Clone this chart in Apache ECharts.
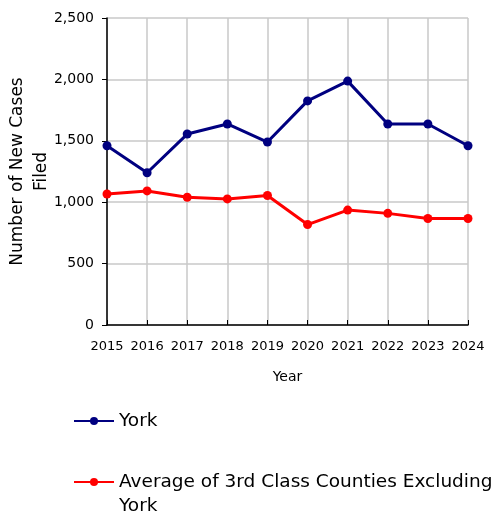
<!DOCTYPE html>
<html><head><meta charset="utf-8">
<script src="https://cdn.jsdelivr.net/npm/echarts@6/dist/echarts.min.js"></script>
<style>html,body{margin:0;padding:0;background:#fff}#c{width:495px;height:514px}</style>
</head><body><div id="c"></div>
<script>
const years = ['2015','2016','2017','2018','2019','2020','2021','2022','2023','2024'];
const york = [1460, 1240, 1555, 1637, 1490, 1825, 1986, 1637, 1637, 1460];
const avg3rd = [1067, 1092, 1040, 1027, 1055, 818, 936, 909, 867, 867];
const seriesNames = ['York', 'Average of 3rd Class Counties Excluding York'];
const legendLines = ['Average of 3rd Class Counties Excluding', 'York'];
const yTicks = {min: 0, max: 2500, interval: 500};

const chart = echarts.init(document.getElementById('c'), null, {renderer: 'canvas'});
const font = 'DejaVu Sans, Liberation Sans, sans-serif';
const legendBase = {
  orient: 'vertical', left: 68, itemWidth: 40, itemHeight: 10,
  textStyle: {fontSize: 18.5, color: '#000', fontFamily: font, lineHeight: 24}
};
chart.setOption({
  animation: false,
  textStyle: {fontFamily: font},
  grid: {left: 107, right: 27, top: 18, bottom: 189, outerBoundsMode: 'none', containLabel: false},
  xAxis: {
    type: 'category', data: years, boundaryGap: false,
    name: 'Year', nameLocation: 'middle', nameGap: 45,
    nameTextStyle: {fontSize: 14, color: '#000', fontFamily: font},
    axisLine: {lineStyle: {color: '#000', width: 1.5}},
    axisTick: {show: true, inside: true, length: 5, interval: 0, lineStyle: {color: '#000'}},
    axisLabel: {color: '#000', fontSize: 13, margin: 15, interval: 0, hideOverlap: false, fontFamily: font},
    splitLine: {show: true, interval: 0, lineStyle: {color: '#c8c8c8', width: 1.5}}
  },
  yAxis: {
    type: 'value', min: yTicks.min, max: yTicks.max, interval: yTicks.interval,
    name: 'Number of New Cases\nFiled', nameLocation: 'middle', nameGap: 53,
    nameMoveOverlap: false,
    nameTextStyle: {fontSize: 17, color: '#000', lineHeight: 24, fontFamily: font},
    axisLine: {show: true, lineStyle: {color: '#000', width: 1.5}},
    axisTick: {show: true, length: 5, lineStyle: {color: '#000'}},
    axisLabel: {color: '#000', fontSize: 14, margin: 13, fontFamily: font,
      formatter: v => v.toLocaleString('en-US')},
    splitLine: {show: true, lineStyle: {color: '#c8c8c8', width: 1.5}}
  },
  legend: [
    Object.assign({}, legendBase, {top: 404, data: [seriesNames[0]]}),
    Object.assign({}, legendBase, {top: 465, data: [seriesNames[1]],
      formatter: () => legendLines[0]})
  ],
  graphic: [{
    type: 'text', left: 119, top: 497,
    style: {text: legendLines[1], fontSize: 18.5, fontFamily: font, fill: '#000'}
  }],
  series: [
    {name: seriesNames[0], type: 'line', data: york, symbol: 'circle', symbolSize: 9,
     itemStyle: {color: '#000080'}, lineStyle: {color: '#000080', width: 3}},
    {name: seriesNames[1], type: 'line', data: avg3rd, symbol: 'circle', symbolSize: 9,
     itemStyle: {color: '#ff0000'}, lineStyle: {color: '#ff0000', width: 3}}
  ]
});
</script></body></html>
